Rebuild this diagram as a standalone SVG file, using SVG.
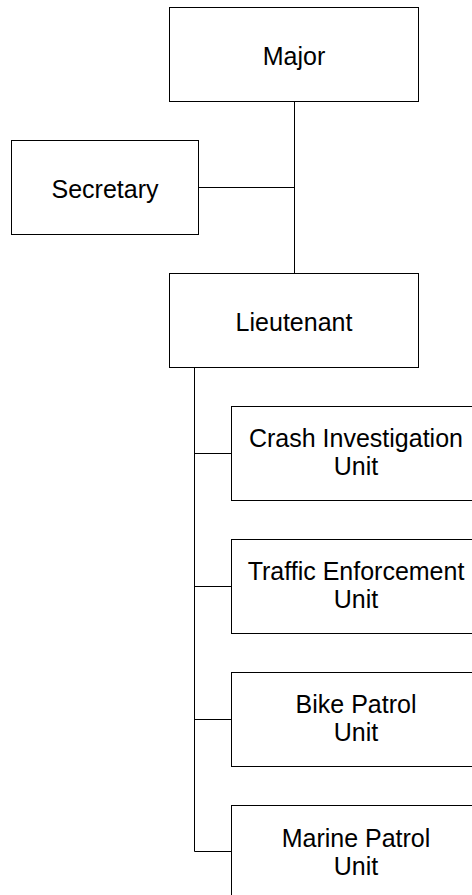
<svg xmlns="http://www.w3.org/2000/svg" width="472" height="895" viewBox="0 0 472 895">
  <style>
    .box { fill: #fff; stroke: #000; stroke-width: 1; }
    .lbl { font-family: "Liberation Sans", Arial, sans-serif; font-size: 25px; fill: #000; text-anchor: middle; }
    .wire { fill: none; stroke: #000; stroke-width: 1; }
  </style>
  <rect width="472" height="895" fill="#fff"/>

  <!-- connectors -->
  <g id="connectors">
    <path class="wire" d="M294.5 101.5 V273.5"/>
    <path class="wire" d="M198.5 187.5 H294.5"/>
    <path class="wire" d="M194.5 367.5 V851.5"/>
    <path class="wire" d="M194.5 453.5 H231.5"/>
    <path class="wire" d="M194.5 586.5 H231.5"/>
    <path class="wire" d="M194.5 719.5 H231.5"/>
    <path class="wire" d="M194.5 851.5 H231.5"/>
  </g>

  <g id="major">
    <rect class="box" x="169.5" y="7.5" width="249" height="94"/>
    <text class="lbl" x="294" y="64.5">Major</text>
  </g>

  <g id="secretary">
    <rect class="box" x="11.5" y="140.5" width="187" height="94"/>
    <text class="lbl" x="105" y="197.5">Secretary</text>
  </g>

  <g id="lieutenant">
    <rect class="box" x="169.5" y="273.5" width="249" height="94"/>
    <text class="lbl" x="294" y="330.5">Lieutenant</text>
  </g>

  <!-- two-line unit labels: baselines 28px apart -->
  <g id="crash-investigation">
    <rect class="box" x="231.5" y="406.5" width="249" height="94"/>
    <text class="lbl" x="356" y="446.5">Crash Investigation</text>
    <text class="lbl" x="356" y="474.5">Unit</text>
  </g>

  <g id="traffic-enforcement">
    <rect class="box" x="231.5" y="539.5" width="249" height="94"/>
    <text class="lbl" x="356" y="579.5">Traffic Enforcement</text>
    <text class="lbl" x="356" y="607.5">Unit</text>
  </g>

  <g id="bike-patrol">
    <rect class="box" x="231.5" y="672.5" width="249" height="94"/>
    <text class="lbl" x="356" y="712.5">Bike Patrol</text>
    <text class="lbl" x="356" y="740.5">Unit</text>
  </g>

  <g id="marine-patrol">
    <rect class="box" x="231.5" y="805.5" width="249" height="94"/>
    <text class="lbl" x="356" y="846.5">Marine Patrol</text>
    <text class="lbl" x="356" y="874.5">Unit</text>
  </g>
</svg>
